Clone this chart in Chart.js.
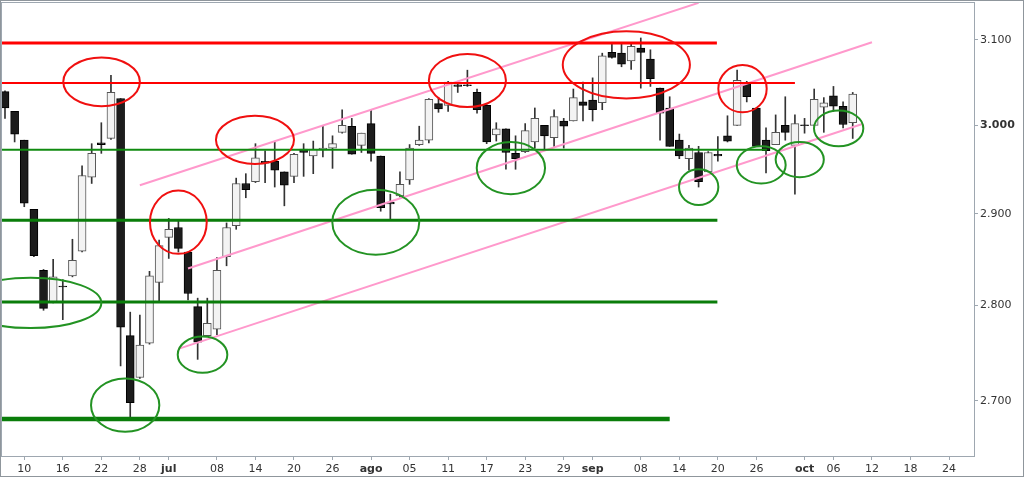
<!DOCTYPE html>
<html><head><meta charset="utf-8">
<script src="https://cdn.jsdelivr.net/npm/chart.js@4.4.0/dist/chart.umd.min.js"></script>
<style>html,body{margin:0;padding:0;background:#fff;overflow:hidden}</style>
</head><body>
<canvas id="c" width="1024" height="477"></canvas>
<script>
// ---- DATA (candle index 0..88) ----
const opens  = [3039,3016,2983,2905,2838,2804,2821,2832,2859,2941,2980,2985,3031,2768,2724,2760,2825,2874,2885,2858,2799,2768,2775,2853,2887,2934,2936,2959,2959,2947,2942,2973,2965,2972,2974,2992,2999,2977,3002,2965,2913,2920,2938,2978,2983,3025,3023,3047,3047,3038,3023,2989,2996,2968,2970,2981,3000,2986,3005,3005,3027,3029,3026,3085,3084,3075,3090,3077,3043,3020,2983,2962,2969,2947,2967,2988,3000,3049,3020,2983,2978,3000,2977,3000.5,3000,3021,3034,3022,3003];
const highs  = [3040,3016,2983,2905,2839,2850,2828,2872,2954,2979,3003,3058,3031,2793,2790,2837,2871,2895,2893,2858,2808,2808,2852,2890,2940,2945,2979,2971,2981,2947,2968,2979,2982,2999,2988,3018,3008,2991,3018,2965,2922,2947,2978,2999,3031,3032,3051,3051,3064,3042,3024,3003,2996,2988,3002,3020,3000,3018,3008,3042,3050,3055,3084,3096,3096,3096,3102,3088,3043,3033,2990,2977,2976,2970,2987,3011,3064,3051,3020,2997,3012,3033,3012,3008,3042,3032,3045,3027,3038];
const lows   = [3008,2981,2908,2853,2795,2803,2785,2831,2858,2934,2968,2984,2736,2682,2723,2759,2805,2851,2858,2806,2743,2767,2769,2843,2883,2918,2935,2935,2930,2909,2935,2942,2945,2964,2951,2991,2967,2969,2959,2903,2894,2919,2933,2977,2980,3015,3016,3038,3045,3014,2979,2982,2950,2950,2969,2974,2972,2976,2974,3005,3005,3005,3018,3078,3068,3065,3043,3045,2983,2976,2962,2949,2930,2947,2959,2981,3000,3027,2976,2946,2978,2983,2922,2991,3000,2992,3016,2997,2985];
const closes = [3020,2990,2912,2854,2797,2831,2820,2849,2943,2968,2978,3038,2777,2698,2758,2832,2865,2883,2862,2813,2761,2781,2838,2885,2934,2927,2963,2957,2949,2932,2967,2969,2973,2974,2979,3000,2967,2991,2968,2907,2911,2933,2974,2983,3030,3019,3050,3045,3046,3018,2981,2996,2969,2962,2994,3008,2988,3010,2999,3032,3023,3018,3081,3079,3071,3092,3085,3054,3014,2976,2965,2974,2936,2969,2965,2982,3052,3033,2976,2971,2992,2992,3002,2999.5,3030,3026,3022,3001,3036];

// x-axis tick positions (candle index) and labels
const xTickPos    = [2,6,10,14,17,22,26,30,34,38,42,46,50,54,58,61,66,70,74,78,83,86,90,94,98];
const xTickLabels = ['10','16','22','28','jul','08','14','20','26','ago','05','11','17','23','29','sep','08','14','20','26','oct','06','12','18','24'];
const monthLabels = ['jul','ago','sep','oct'];
// y-axis ticks
const yTickValues = [2700,2800,2900,3000,3100];

// horizontal support / resistance levels
const levelValues = [3096, 3049, 2972, 2893, 2804, 2681];
const levelEnds   = [73.9, 82.0, 79.1, 73.95, 73.95, 69.0];

// trend lines [index, value]
const trendStarts = [[14, 2932], [19, 2840], [18, 2754]];
const trendEnds   = [[72, 3144], [90, 3097], [89, 3001.5]];

// ellipses [xFrom, xTo, valueLow, valueHigh]
const redEllipses = [[6.05,14.0,3022,3079],[15.05,20.94,2856,2926],[21.9,30.0,2956,3011],[44.0,52.0,3021,3083],[57.9,71.1,3031,3110],[74.05,79.07,3015,3070]];
const greenEllipses = [[-4.67,10.0,2776,2830],[8.93,16.02,2668,2723],[17.93,23.08,2729,2767],[33.98,43.0,2855,2927],[48.97,56.06,2922,2981],[69.97,74.05,2910,2950],[75.96,81.04,2934,2976],[80.0,85.0,2941,2981],[83.98,89.1,2976,3017]];

// ---- STYLES ----
const FRAME = '#9ea7b0';
const FONT = 'DejaVu Sans';
const levelColors = ['#ff0000','#ff0000','#108a10','#0a7d0a','#0a7d0a','#0a7d0a'];
const levelWidths = [3, 2, 2, 3, 3, 4.5];
const PINK = '#ff99cc';

const isUp = opens.map((o,i)=>closes[i] >= o);
const wickData = lows.map((l,i)=>({x:i, y:[l, highs[i]]}));
const bodyData = opens.map((o,i)=>({x:i, y:[o, closes[i]]}));

const datasets = [
  {type:'bar', label:'wicks', data:wickData, backgroundColor:'#333', barThickness:1, grouped:false, order:10, borderWidth:0},
  {type:'bar', label:'bodies', data:bodyData, grouped:false, order:9, barThickness:8, borderWidth:1, borderSkipped:false,
   backgroundColor:isUp.map(u=>u?'#f3f3f3':'#1c1c1c'), borderColor:isUp.map(u=>u?'#555':'#000')}
];
trendStarts.forEach((s,i)=>{
  datasets.push({type:'line', data:[{x:s[0],y:s[1]},{x:trendEnds[i][0],y:trendEnds[i][1]}], borderColor:PINK, borderWidth:2, pointRadius:0, fill:false, order:2});
});
levelValues.forEach((v,i)=>{
  datasets.push({type:'line', data:[{x:-1,y:v},{x:levelEnds[i],y:v}], borderColor:levelColors[i], borderWidth:levelWidths[i], pointRadius:0, fill:false, order:1});
});

const deco = {
  id:'deco',
  beforeDraw(chart){
    const c = chart.ctx; c.save(); c.fillStyle='#fff'; c.fillRect(0,0,chart.width,chart.height); c.restore();
  },
  afterDatasetsDraw(chart){
    const c = chart.ctx, xs = chart.scales.x, ys = chart.scales.y, a = chart.chartArea;
    c.save();
    c.beginPath(); c.rect(a.left, a.top, a.right-a.left, a.bottom-a.top); c.clip();
    const draw = (list, color) => {
      c.strokeStyle = color; c.lineWidth = 2;
      list.forEach(e=>{
        const x1 = xs.getPixelForValue(e[0]), x2 = xs.getPixelForValue(e[1]);
        const y1 = ys.getPixelForValue(e[3]), y2 = ys.getPixelForValue(e[2]);
        c.beginPath();
        c.ellipse((x1+x2)/2, (y1+y2)/2, Math.abs(x2-x1)/2, Math.abs(y2-y1)/2, 0, 0, Math.PI*2);
        c.stroke();
      });
    };
    draw(redEllipses, '#f01010');
    draw(greenEllipses, '#239323');
    c.restore();
  },
  afterDraw(chart){
    const c = chart.ctx, a = chart.chartArea;
    c.save(); c.strokeStyle = FRAME; c.lineWidth = 1;
    c.strokeRect(a.left+0.5, a.top+0.5, a.right-a.left, a.bottom-a.top);
    c.strokeStyle = '#8f969c';
    c.strokeRect(0.5, 0.5, chart.width-1, chart.height-1);
    c.restore();
  }
};

new Chart(document.getElementById('c'), {
  type:'bar',
  data:{datasets},
  plugins:[deco],
  options:{
    responsive:false, animation:false, devicePixelRatio:1,
    layout:{padding:{left:1, top:2, right:1, bottom:1}},
    plugins:{legend:{display:false}, tooltip:{enabled:false}},
    scales:{
      x:{type:'linear', min:-0.415, max:100.59, offset:false,
         grid:{display:true, drawOnChartArea:false, drawTicks:true, tickLength:4, color:FRAME, offset:false},
         border:{display:true, color:FRAME},
         afterBuildTicks:s=>{ s.ticks = xTickPos.map(v=>({value:v})); },
         afterFit:s=>{ s.height = 20; s.paddingLeft = 0; s.paddingRight = 0; },
         ticks:{autoSkip:false, maxRotation:0, minRotation:0, padding:3, color:'#333',
           font:(ctx)=>{ const t = ctx.tick ? xTickLabels[xTickPos.indexOf(ctx.tick.value)] : ''; return {family:FONT, size:11, weight: monthLabels.includes(t)?'bold':'normal'}; },
           callback:(v)=>xTickLabels[xTickPos.indexOf(v)]}
      },
      y:{type:'logarithmic', position:'right', min:2643.4, max:3145,
         grid:{display:true, drawOnChartArea:false, drawTicks:true, tickLength:4, color:FRAME},
         border:{display:true, color:FRAME},
         afterBuildTicks:s=>{ s.ticks = yTickValues.map(v=>({value:v})); },
         afterFit:s=>{ s.width = 49; s.paddingTop = 0; s.paddingBottom = 0; },
         ticks:{padding:2, color:'#333', autoSkip:false,
           font:(ctx)=>({family:FONT, size:11, weight:(ctx.tick && ctx.tick.value===3000)?'bold':'normal'}),
           callback:(v)=>(v/1000).toFixed(3)}
      }
    }
  }
});
</script>
</body></html>
